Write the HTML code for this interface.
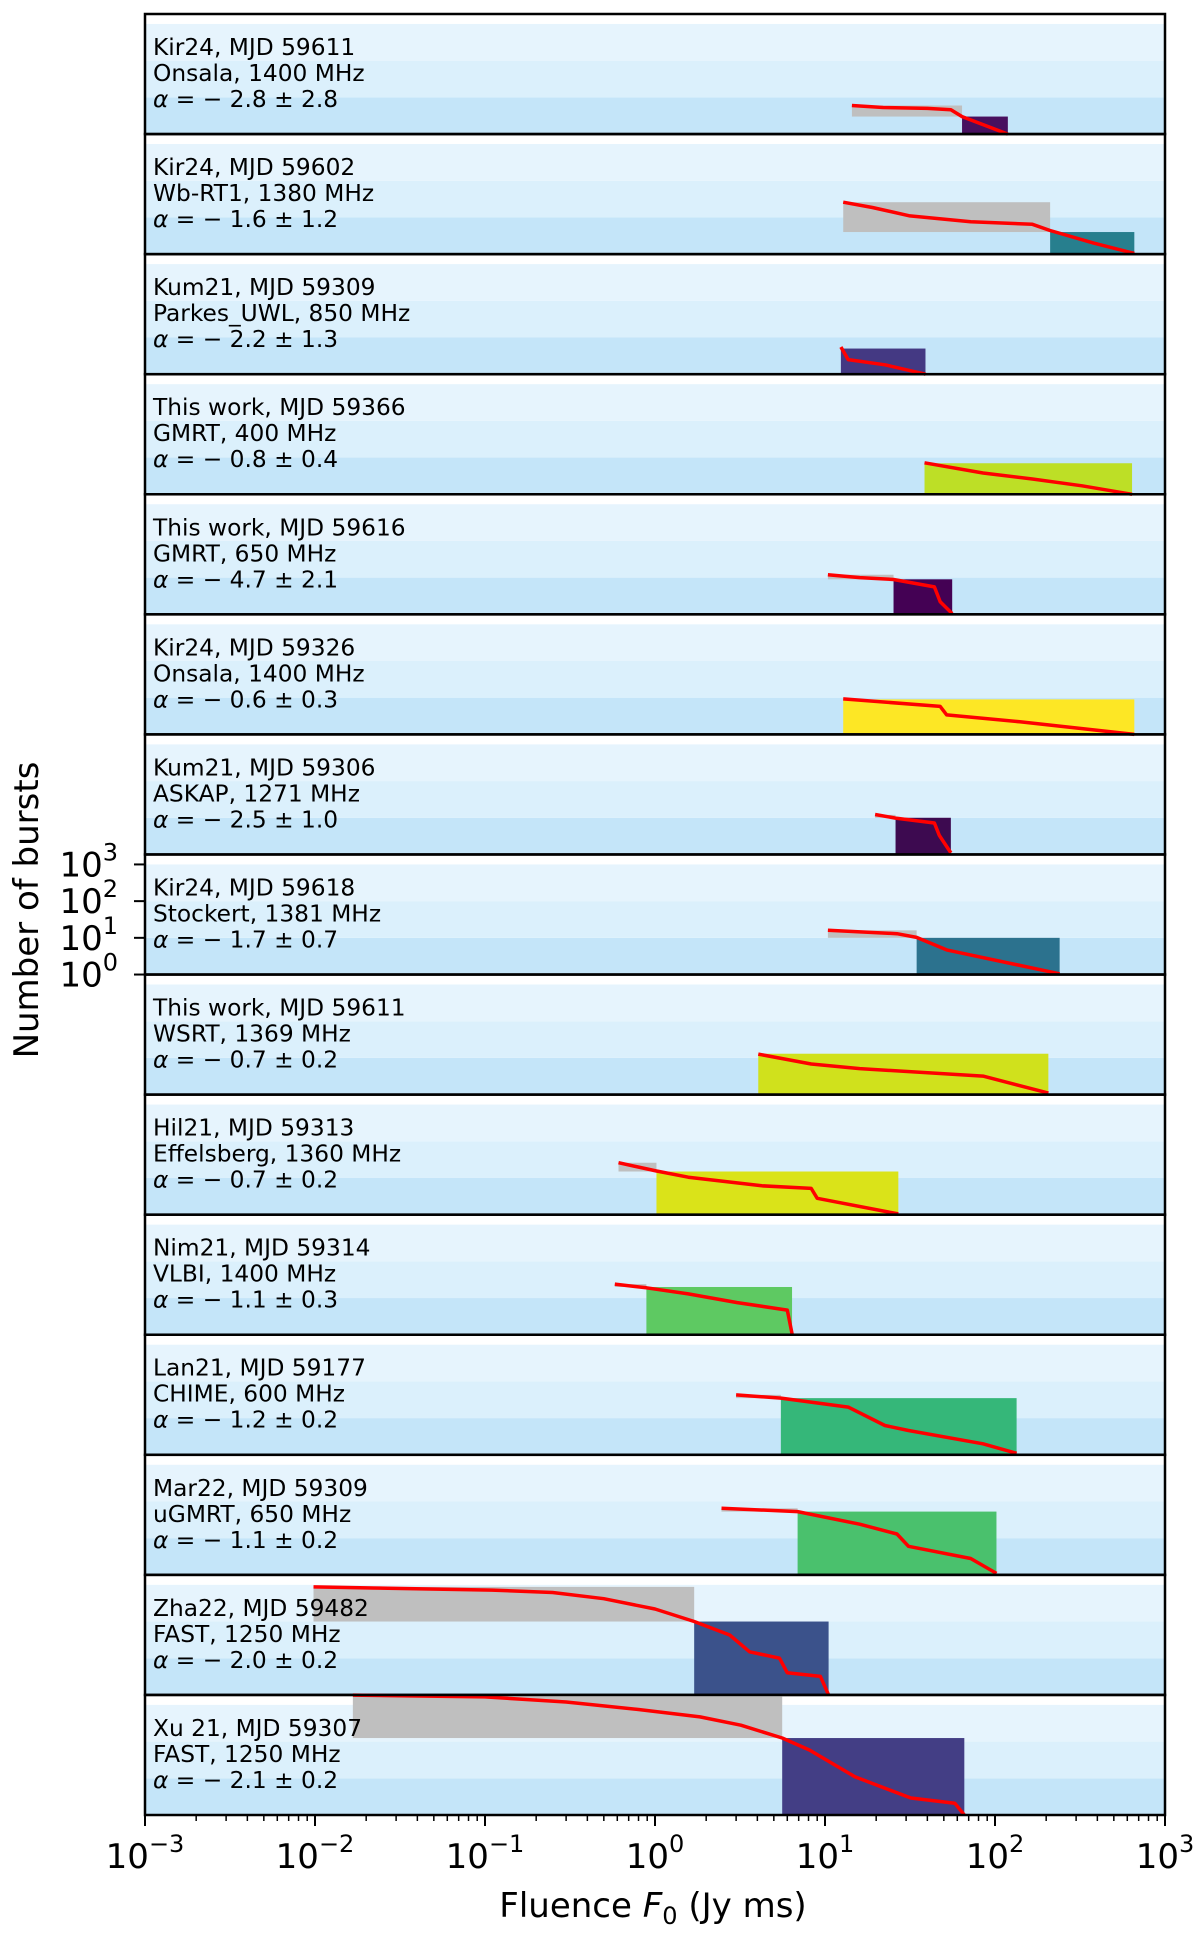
<!DOCTYPE html>
<html><head><meta charset="utf-8"><style>
html,body{margin:0;padding:0;background:#fff}
svg{display:block}
text{font-family:"DejaVu Sans","Liberation Sans",sans-serif;fill:#000}
</style></head><body>
<svg id="chart" width="1200" height="1933" viewBox="0 0 1200 1933" xmlns="http://www.w3.org/2000/svg"></svg>
<script>
const labels1 = ["Kir24, MJD 59611","Kir24, MJD 59602","Kum21, MJD 59309","This work, MJD 59366","This work, MJD 59616","Kir24, MJD 59326","Kum21, MJD 59306","Kir24, MJD 59618","This work, MJD 59611","Hil21, MJD 59313","Nim21, MJD 59314","Lan21, MJD 59177","Mar22, MJD 59309","Zha22, MJD 59482","Xu 21, MJD 59307"];
const labels2 = ["Onsala, 1400 MHz","Wb-RT1, 1380 MHz","Parkes_UWL, 850 MHz","GMRT, 400 MHz","GMRT, 650 MHz","Onsala, 1400 MHz","ASKAP, 1271 MHz","Stockert, 1381 MHz","WSRT, 1369 MHz","Effelsberg, 1360 MHz","VLBI, 1400 MHz","CHIME, 600 MHz","uGMRT, 650 MHz","FAST, 1250 MHz","FAST, 1250 MHz"];
const alphas = ["− 2.8 ± 2.8","− 1.6 ± 1.2","− 2.2 ± 1.3","− 0.8 ± 0.4","− 4.7 ± 2.1","− 0.6 ± 0.3","− 2.5 ± 1.0","− 1.7 ± 0.7","− 0.7 ± 0.2","− 0.7 ± 0.2","− 1.1 ± 0.3","− 1.2 ± 0.2","− 1.1 ± 0.2","− 2.0 ± 0.2","− 2.1 ± 0.2"];
const fMin   = [14.4,12.8,12.4,38.5,10.4,12.8,19.7,10.4,4.05,0.61,0.58,3.0,2.46,0.0098,0.0167];
const fThr   = [64,211,12.4,38.5,25.3,12.8,26,34.6,4.05,1.02,0.89,5.5,6.9,1.7,5.6];
const fMax   = [119,660,39,640,56,660,55,240,206,27,6.4,134,102,10.5,66];
const nTot   = [6,26,5,7,12,9,12,16,13,26,24,43,65,880,1850];
const nAbove = [3,4,5,7,9,9,10,10,13,15,20,35,53,100,125];
const colors = ["#48105f","#277f8e","#443983","#bddf26","#440154","#fde725","#3d0a50","#2c728e","#d0e11c","#dae319","#5ec962","#35b779","#4ac16d","#3b528b","#433e85"];
const curveF = [
 [14.4,22,40,55,64,119],
 [12.8,19,31.6,72,166,211,380,660],
 [12.4,13.7,22.5,39],
 [38.5,85,166,325,640],
 [10.4,16,25.3,44,47.6,56],
 [12.8,47.6,52,140,660],
 [19.7,26,44,47,55],
 [10.4,26.5,34.6,52,240],
 [4.05,8.3,16,85,206],
 [0.61,1.02,1.57,4.25,8.3,9,27],
 [0.58,0.89,1.57,3.05,6,6.4],
 [3,5.5,13.7,22.5,31,85,134],
 [2.46,6.9,16,26.5,31,72,102],
 [0.0098,0.022,0.11,0.25,0.5,1.0,1.7,2.75,3.6,5.4,6,9.4,10.5],
 [0.0167,0.1,0.3,0.8,1.84,3.2,5.6,8.1,15,20,32,58,66]
];
const curveN = [
 [6,5.3,5,4.6,3,1],
 [26,18.6,11,7.6,6.5,4.4,2,1.05],
 [5.5,2.5,1.8,1],
 [7.2,3.8,2.6,1.7,1],
 [12,10,8.9,5.6,2.2,1.05],
 [9.3,5.8,3.4,2.2,1],
 [12.3,9.8,7.2,3.3,1.1],
 [16,13,10.3,4.7,1.05],
 [12.7,6.8,5.1,3.2,1.1],
 [26,15.5,10.5,6.1,5.2,2.8,1.05],
 [24,19,13,7.5,4.7,1.05],
 [43,35,20,6.3,4.6,2,1.1],
 [65,53,24,13,6,2.8,1.1],
 [880,820,720,620,420,220,100,43,15,10,4,3.2,1],
 [1850,1650,1200,750,470,280,125,59,11,6.6,2.9,2.1,1]
];
const xTickExp = [-3,-2,-1,0,1,2,3];
const yTickExp = [0,1,2,3];

const NS="http://www.w3.org/2000/svg";
const svg=document.getElementById('chart');
const L=145,R=1165,TOP=14,PH=120.067,DEC=36.7;
const YMAX=Math.pow(10,PH/DEC);
function xs(f){return L+(Math.log10(f)+3)*170;}
function ys(k,n){n=Math.min(n,YMAX);return TOP+(k+1)*PH-Math.log10(n)*DEC;}
function mk(tag,attrs,parent){const e=document.createElementNS(NS,tag);for(const a in attrs)e.setAttribute(a,attrs[a]);(parent||svg).appendChild(e);return e;}

for(let k=0;k<15;k++){
  const g=mk('g',{});
  
  
  const top=TOP+k*PH;
  const bandCols=["#c4e5f9","#dbf0fc","#e6f4fd"];
  for(let b=0;b<3;b++){
    const r=mk('rect',{x:L,y:ys(k,Math.pow(10,b+1)),width:R-L,height:DEC,fill:bandCols[b]},g);
    
    
  }
  if(fThr[k]>fMin[k]){
    const gr=mk('rect',{x:xs(fMin[k]),y:ys(k,nTot[k]),width:xs(fThr[k])-xs(fMin[k]),height:ys(k,nAbove[k])-ys(k,nTot[k]),fill:"#bfbfbf"},g);
    
    
  }
  const cr=mk('rect',{x:xs(fThr[k]),y:ys(k,nAbove[k]),width:xs(fMax[k])-xs(fThr[k]),height:ys(k,1)-ys(k,nAbove[k]),fill:colors[k]},g);
  
  
  const pts=curveF[k].map((f,i)=>xs(f).toFixed(1)+','+ys(k,curveN[k][i]).toFixed(1)).join(' ');
  const pl=mk('polyline',{points:pts,fill:'none',stroke:'#ff0000','stroke-width':3.5,'stroke-linejoin':'round'},g);
  
  
  const t=mk('text',{x:153,y:top+41,'font-size':23.3},g);
  
  
  const s1=mk('tspan',{x:153},t);s1.textContent=labels1[k];
  const s2=mk('tspan',{x:153,dy:26},t);s2.textContent=labels2[k];
  const s3=mk('tspan',{x:153,dy:26,'font-style':'italic'},t);s3.textContent='α';
  const s4=mk('tspan',{},t);s4.textContent=' = '+alphas[k];
  const fr=mk('rect',{x:L,y:top,width:R-L,height:PH,fill:'none',stroke:'#000','stroke-width':2.5},g);
  
  
}
const xa=mk('g',{});


const B=TOP+15*PH;
xTickExp.forEach((e,i)=>{
  const x=xs(Math.pow(10,e));
  mk('line',{x1:x,x2:x,y1:B,y2:B+11,stroke:'#000','stroke-width':2},xa);
  const t=mk('text',{x:x,y:1868,'font-size':34,'text-anchor':'middle'},xa);
  
  
  const a=mk('tspan',{},t);a.textContent='10';
  const b=mk('tspan',{dy:-16,'font-size':24},t);b.textContent=(e<0?'−':'')+Math.abs(e);
  if(i<xTickExp.length-1){for(let m=2;m<10;m++){const xm=xs(m*Math.pow(10,e));mk('line',{x1:xm,x2:xm,y1:B,y2:B+6,stroke:'#000','stroke-width':1.5},xa);}}
});
const xl=mk('text',{x:653,y:1917,'font-size':34,'text-anchor':'middle'});


xl.innerHTML='Fluence <tspan font-style="italic">F</tspan><tspan font-size="24" dy="7">0</tspan><tspan dy="-7"> (Jy ms)</tspan>';
const ya=mk('g',{});


yTickExp.forEach(e=>{
  const y=ys(7,Math.pow(10,e));
  mk('line',{x1:L-11,x2:L,y1:y,y2:y,stroke:'#000','stroke-width':2},ya);
  const t=mk('text',{x:118,y:y+12,'font-size':34,'text-anchor':'end'},ya);
  
  
  const a=mk('tspan',{},t);a.textContent='10';
  const b=mk('tspan',{dy:-16,'font-size':24},t);b.textContent=String(e);
});
const yl=mk('text',{x:0,y:0,'font-size':34,'text-anchor':'middle',transform:'translate(38,910) rotate(-90)'});


yl.textContent='Number of bursts';
</script>
</body></html>
